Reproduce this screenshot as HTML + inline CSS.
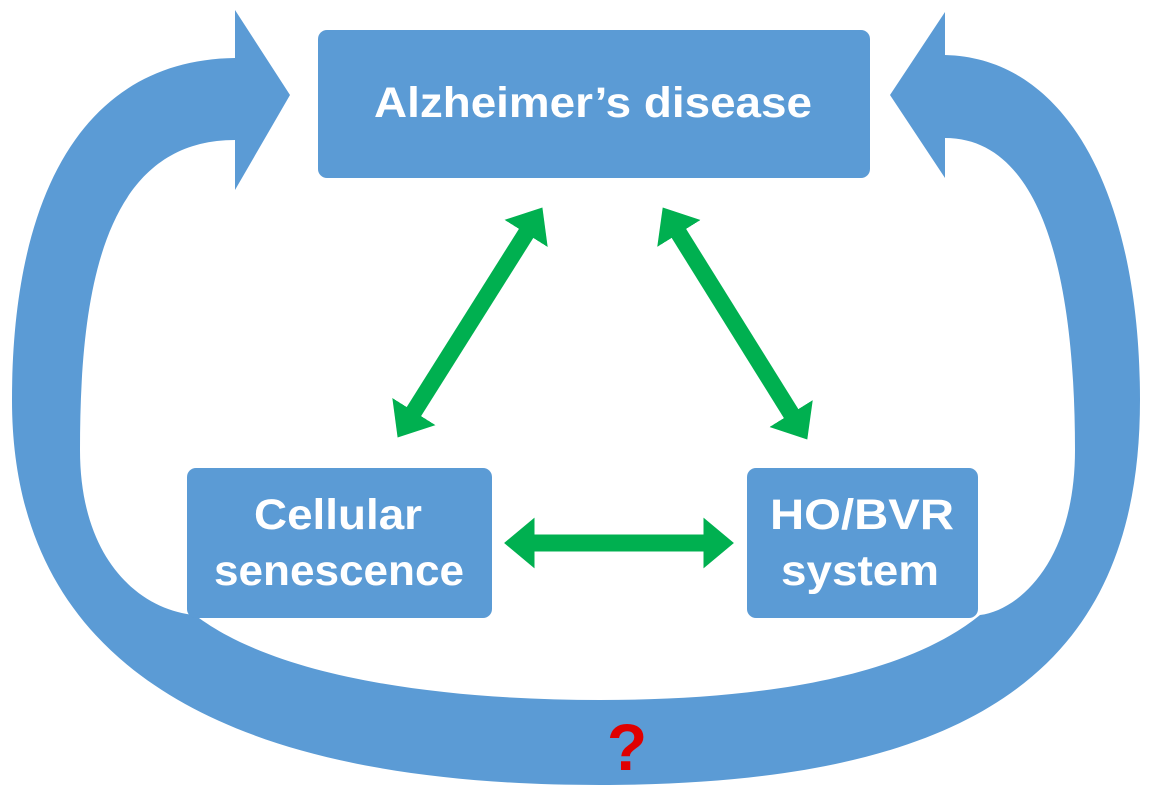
<!DOCTYPE html>
<html><head><style>
html,body{margin:0;padding:0;background:#fff;}
body{width:1156px;height:795px;overflow:hidden;font-family:"Liberation Sans",sans-serif;}
</style></head><body>
<svg width="1156" height="795" viewBox="0 0 1156 795" xmlns="http://www.w3.org/2000/svg">
<defs>
<marker id="g" markerWidth="3" markerHeight="3" refX="0.1" refY="1.5" orient="auto-start-reverse" markerUnits="strokeWidth">
<path d="M0,0 L1.8,1.5 L0,3 Z" fill="#00B050"/>
</marker>
</defs>
<path fill="#5B9BD5" d="M235,58 C80,60 12,200 12,400 C12,650 200,785 600,785 C1000,785 1140,650 1140,400 C1140,200 1070,58 945,55 L945,12 L890,95 L945,178 L945,138 C1050,138 1075,300 1075,450 C1075,560 1020,610 980,615 C900,680 750,700 600,700 C450,700 280,680 195,615 C140,610 80,560 80,450 C80,300 100,140 235,140 L235,190 L290,95 L235,10 Z"/>
<rect x="318" y="30" width="552" height="148" rx="9" fill="#5B9BD5"/>
<rect x="187" y="468" width="305" height="150" rx="9" fill="#5B9BD5"/>
<rect x="747" y="468" width="231" height="150" rx="9" fill="#5B9BD5"/>
<g fill="#fff" font-weight="bold" font-size="43" text-anchor="middle" font-family="Liberation Sans, sans-serif">
<text x="593" y="117" textLength="438" lengthAdjust="spacingAndGlyphs">Alzheimer’s disease</text>
<text x="338" y="529" textLength="168" lengthAdjust="spacingAndGlyphs">Cellular</text>
<text x="339" y="585" textLength="250" lengthAdjust="spacingAndGlyphs">senescence</text>
<text x="862" y="529" textLength="184" lengthAdjust="spacingAndGlyphs">HO/BVR</text>
<text x="860" y="585" textLength="158" lengthAdjust="spacingAndGlyphs">system</text>
</g>
<g stroke="#00B050" stroke-width="17" marker-start="url(#g)" marker-end="url(#g)">
<line x1="413" y1="413" x2="527" y2="232"/>
<line x1="678" y1="232" x2="792" y2="415"/>
<line x1="533" y1="543" x2="705" y2="543"/>
</g>
<text x="627" y="770" fill="#E00000" font-weight="bold" font-size="66" text-anchor="middle" font-family="Liberation Sans, sans-serif">?</text>
</svg>
</body></html>
